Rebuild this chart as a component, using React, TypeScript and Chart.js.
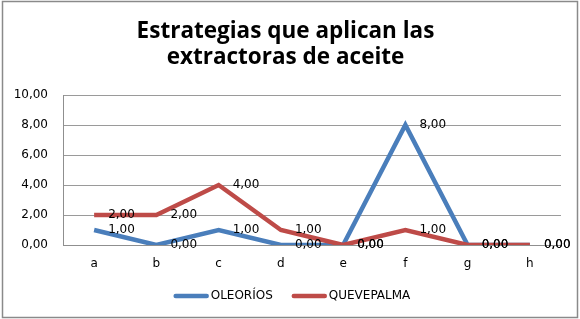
import React, { useEffect, useRef } from "react";
import { Chart, registerables } from "chart.js";

Chart.register(...registerables);

const categories = ["a", "b", "c", "d", "e", "f", "g", "h"];
const oleorios = [1, 0, 1, 0, 0, 8, 0, 0];
const quevepalma = [2, 2, 4, 1, 0, 1, 0, 0];
const seriesNames = ["OLEORÍOS", "QUEVEPALMA"];
const titleLines = ["Estrategias que aplican las", "extractoras de aceite"];

const BLUE = "#4A7EBB";
const RED = "#BE4B48";
const FONT = "'DejaVu Sans', Verdana, sans-serif";
const fmt = (v: number) => v.toFixed(2).replace(".", ",");

const frame = {
  id: "frame",
  beforeDraw(chart: any) {
    const { ctx, width, height } = chart;
    ctx.save();
    ctx.fillStyle = "#fff";
    ctx.fillRect(0, 0, width, height);
    ctx.strokeStyle = "#8a8a8a";
    ctx.lineWidth = 1.5;
    ctx.strokeRect(2.5, 1.5, 575, 316);
    ctx.restore();
  },
};

const dataLabels = {
  id: "dataLabels",
  afterDatasetsDraw(chart: any) {
    const { ctx } = chart;
    ctx.save();
    ctx.font = `12px ${FONT}`;
    ctx.fillStyle = "#000";
    ctx.textAlign = "left";
    ctx.textBaseline = "middle";
    chart.data.datasets.forEach((ds: any, i: number) => {
      const meta = chart.getDatasetMeta(i);
      meta.data.forEach((pt: any, j: number) => {
        const v = ds.data[j];
        if (v === null || v === undefined) return;
        ctx.fillText(fmt(v), pt.x + 14, pt.y);
      });
    });
    ctx.restore();
  },
};

// Legend drawn below the x axis: line sample + label, centred.
const lineLegend = {
  id: "lineLegend",
  afterDraw(chart: any) {
    const { ctx } = chart;
    const sample = 35;
    const gapText = 2;
    const gapItem = 19;
    const centerX = 292;
    const y = 296;
    ctx.save();
    ctx.font = `12px ${FONT}`;
    ctx.textBaseline = "middle";
    ctx.textAlign = "left";
    const items = chart.data.datasets.map((ds: any) => ({
      text: ds.label,
      color: ds.borderColor,
      w: ctx.measureText(ds.label).width,
    }));
    const total =
      items.reduce((s: number, it: any) => s + sample + gapText + it.w, 0) +
      gapItem * (items.length - 1);
    let x = centerX - total / 2;
    items.forEach((it: any) => {
      ctx.strokeStyle = it.color;
      ctx.lineWidth = 4.5;
      ctx.lineCap = "round";
      ctx.beginPath();
      ctx.moveTo(x + 2, y);
      ctx.lineTo(x + sample - 2, y);
      ctx.stroke();
      ctx.fillStyle = "#000";
      ctx.fillText(it.text, x + sample + gapText, y);
      x += sample + gapText + it.w + gapItem;
    });
    ctx.restore();
  },
};

export default function App() {
  const ref = useRef<HTMLCanvasElement | null>(null);
  useEffect(() => {
    document.body.style.margin = "0";
    const chart = new Chart(ref.current as HTMLCanvasElement, {
      type: "line",
      data: {
        labels: categories,
        datasets: [
          {
            label: seriesNames[0],
            data: oleorios,
            borderColor: BLUE,
            backgroundColor: BLUE,
            borderWidth: 4.5,
            pointRadius: 0,
            tension: 0,
            order: 1,
          },
          {
            label: seriesNames[1],
            data: quevepalma,
            borderColor: RED,
            backgroundColor: RED,
            borderWidth: 4.5,
            pointRadius: 0,
            tension: 0,
            order: 0,
          },
        ],
      },
      options: {
        animation: false,
        responsive: false,
        layout: { padding: { left: 10, right: 19, top: 0, bottom: 36 } },
        plugins: {
          tooltip: { enabled: false },
          legend: { display: false },
          title: {
            display: true,
            text: titleLines,
            color: "#000",
            font: { family: "'Open Sans', Lato, sans-serif", size: 22.5, weight: "bold", lineHeight: 26 / 22.5 },
            padding: { top: 18.5, bottom: 24.5 },
          },
        },
        scales: {
          x: {
            offset: true,
            grid: { display: false, drawTicks: false },
            border: { display: true, color: "#8f8f8f", width: 1 },
            ticks: { color: "#000", font: { family: FONT, size: 12 }, padding: 11.8 },
          },
          y: {
            min: 0,
            max: 10,
            afterFit: (s: any) => {
              s.width = 53;
            },
            grid: { color: "#9a9a9a", drawTicks: false, lineWidth: 1 },
            border: { display: true, color: "#8f8f8f", width: 1 },
            ticks: {
              stepSize: 2,
              color: "#000",
              font: { family: FONT, size: 12 },
              padding: 15,
              callback: (v: any) => fmt(Number(v)),
            },
          },
        },
      },
      plugins: [frame, dataLabels, lineLegend],
    });
    return () => chart.destroy();
  }, []);
  return <canvas ref={ref} width={580} height={319} style={{ display: "block" }} />;
}
